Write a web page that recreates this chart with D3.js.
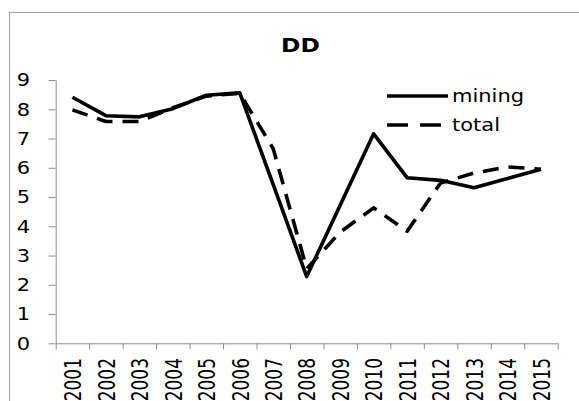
<!DOCTYPE html>
<html>
<head>
<meta charset="utf-8">
<script src="https://cdn.jsdelivr.net/npm/d3@7"></script>
<style>
  html, body { margin: 0; padding: 0; background: #fff; overflow: hidden; }
  svg { display: block; }
  text { font-family: "DejaVu Sans", sans-serif; fill: #000; }
</style>
</head>
<body>
<svg id="chart" width="579" height="401"></svg>
<script>
const years = ["2001","2002","2003","2004","2005","2006","2007","2008","2009","2010","2011","2012","2013","2014","2015"];
const mining = [8.41, 7.78, 7.74, 8.02, 8.48, 8.56, 5.42, 2.28, 4.72, 7.16, 5.66, 5.57, 5.32, 5.63, 5.95];
const total  = [7.98, 7.58, 7.58, 8.05, 8.45, 8.55, 6.65, 2.55, 3.80, 4.63, 3.83, 5.48, 5.82, 6.03, 5.95];
const yTicks = [0,1,2,3,4,5,6,7,8,9];
const title = "DD";
const seriesNames = ["mining", "total"];

const svg = d3.select("#chart");
const SX = 1.2;

// outer chart border
svg.append("rect")
  .attr("x", 9.5).attr("y", 12.5)
  .attr("width", 640).attr("height", 440)
  .attr("fill", "none").attr("stroke", "#a6a6a6").attr("stroke-width", 1);

const plotL = 55.7, plotR = 557.7, plotT = 80, plotB = 343.3;
const x = d3.scaleBand().domain(years).range([plotL, plotR]);
const xb = d3.scaleLinear().domain([0, years.length]).range([plotL, plotR]);
const y = d3.scaleLinear().domain([0, 9]).range([plotB, plotT]);
const cx = d => x(d) + x.bandwidth() / 2;

// y axis
const gy = svg.append("g").attr("transform", `translate(${plotL},0)`)
  .call(d3.axisLeft(y).tickValues(yTicks).tickSize(7).tickSizeOuter(0).tickFormat(""));
gy.selectAll("path, line").attr("stroke", "#8c8c8c").attr("stroke-width", 1);

// x axis (ticks at category boundaries)
const gx = svg.append("g").attr("transform", `translate(0,${plotB})`)
  .call(d3.axisBottom(xb).tickValues(d3.range(years.length + 1)).tickSize(6).tickSizeOuter(0).tickFormat(""));
gx.selectAll("path, line").attr("stroke", "#8c8c8c").attr("stroke-width", 1);

// y tick labels
svg.append("g").selectAll("text").data(yTicks).join("text")
  .attr("transform", d => `translate(30,${y(d)}) scale(${SX},1)`)
  .attr("text-anchor", "end")
  .attr("dy", "0.36em")
  .attr("font-size", 17.5)
  .text(d => d);

// x tick labels (rotated)
svg.append("g").selectAll("text").data(years).join("text")
  .attr("transform", d => `translate(${cx(d) + 0.5},358) scale(1.35,1) rotate(-90)`)
  .attr("text-anchor", "end")
  .attr("dy", "0.36em")
  .attr("font-size", 17)
  .text(d => d);

// title
svg.append("text")
  .attr("transform", `translate(300.5,51.5) scale(${SX},1)`)
  .attr("text-anchor", "middle")
  .attr("font-size", 19.5)
  .attr("font-weight", "bold")
  .text(title);

// lines
const line = d3.line().x((d, i) => cx(years[i])).y(d => y(d));
svg.append("path").datum(total)
  .attr("d", line).attr("fill", "none")
  .attr("stroke", "#000").attr("stroke-width", 3.6)
  .attr("stroke-dasharray", "16,10")
  .attr("stroke-linejoin", "round");
svg.append("path").datum(mining)
  .attr("d", line).attr("fill", "none")
  .attr("stroke", "#000").attr("stroke-width", 3.6)
  .attr("stroke-linejoin", "round");

// legend
const legY = [96, 125];
const lg = svg.append("g");
lg.append("line").attr("x1", 387).attr("x2", 448).attr("y1", legY[0]).attr("y2", legY[0])
  .attr("stroke", "#000").attr("stroke-width", 3.6);
lg.append("line").attr("x1", 387).attr("x2", 448).attr("y1", legY[1]).attr("y2", legY[1])
  .attr("stroke", "#000").attr("stroke-width", 3.6).attr("stroke-dasharray", "21,12");
lg.selectAll("text").data(seriesNames).join("text")
  .attr("transform", (d, i) => `translate(452,${legY[i]}) scale(${SX},1)`)
  .attr("dy", "0.36em")
  .attr("font-size", 17.5)
  .text(d => d);
</script>
</body>
</html>
